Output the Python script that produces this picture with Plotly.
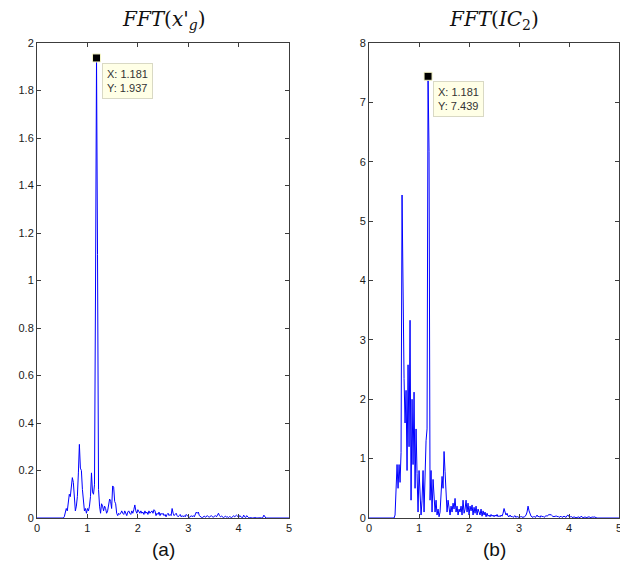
import numpy as np
import plotly.graph_objects as go

# frequency grid (0.501 ... 4.601, step 0.02) plus the axis ends
grid = [round(0.501 + 0.02 * k, 3) for k in range(206)]
freq = [0.0] + grid + [5.0]

# FFT(x'_g) amplitudes
amp_xg = [
    0, 0, 0.005, 0.02, 0.04, 0.03, 0.07, 0.10, 0.09, 0.12,
    0.17, 0.15, 0.06, 0.03, 0.05, 0.09, 0.19, 0.31, 0.21, 0.20,
    0.12, 0.06, 0.03, 0.04, 0.02, 0.04, 0.03, 0.05, 0.09, 0.19,
    0.11, 0.10, 0.14, 0.96, 1.937, 1.11, 0.12, 0.05, 0.02, 0.06,
    0.05, 0.03, 0.05, 0.04, 0.02, 0.03, 0.05, 0.08, 0.07, 0.04,
    0.135, 0.13, 0.07, 0.06, 0.02, 0.01, 0.02, 0.015, 0.02, 0.03,
    0.02, 0.015, 0.03, 0.02, 0.01, 0.025, 0.03, 0.02, 0.015, 0.03,
    0.02, 0.035, 0.055, 0.03, 0.02, 0.035, 0.025, 0.02, 0.03, 0.02,
    0.025, 0.015, 0.03, 0.02, 0.025, 0.015, 0.03, 0.02, 0.025, 0.03,
    0.02, 0.035, 0.03, 0.01, 0.02, 0.015, 0.025, 0.01, 0.02, 0.015,
    0.02, 0.01, 0.015, 0.005, 0.015, 0.02, 0.01, 0.015, 0.01, 0.04,
    0.02, 0.01, 0.015, 0.02, 0.01, 0.005, 0.01, 0.015, 0.005, 0.01,
    0.005, 0.01, 0.005, 0.015, 0.01, 0.005, 0.003, 0.005, 0.01, 0.005,
    0.01, 0.005, 0.015, 0.025, 0.02, 0.025, 0.01, 0.005, 0.003, 0.002,
    0.005, 0.008, 0.003, 0.005, 0.01, 0.005, 0.003, 0.008, 0.01, 0.005,
    0.003, 0.008, 0.01, 0.005, 0.015, 0.02, 0.01, 0.005, 0.008, 0.003,
    0.002, 0.005, 0.008, 0.003, 0.005, 0.002, 0.006, 0.004, 0.002, 0.005,
    0.01, 0.005, 0.008, 0.012, 0.008, 0.002, 0.01, 0.005, 0.003, 0.002,
    0.012, 0.005, 0.002, 0.01, 0.003, 0.001, 0.001, 0.002, 0.001, 0.0,
    0.001, 0, 0.002, 0, 0.001, 0, 0, 0.001, 0, 0.002,
    0.012, 0.002, 0, 0, 0, 0,
]
amp_xg = [0] + amp_xg + [0]

# FFT(IC_2) amplitudes
amp_ic2 = [
    0, 0.05, 0.45, 0.9, 0.5, 0.9, 0.6, 1.1, 5.44, 3.18,
    2.35, 1.6, 2.15, 0.8, 2.58, 1.2, 3.33, 0.3, 2.0, 0.9,
    2.12, 0.5, 1.5, 0.75, 0.1, 0.8, 0.2, 0.05, 0.3, 0.8,
    0.1, 0.75, 1.3, 1.5, 7.439, 6.17, 0.3, 0.8, 0.1, 0.65,
    0.45, 0.1, 0.3, 0.05, 0.15, 0.02, 0.1, 0.4, 0.7, 0.5,
    1.12, 0.78, 0.25, 0.1, 0.3, 0.15, 0.05, 0.2, 0.1, 0.25,
    0.15, 0.33, 0.1, 0.2, 0.05, 0.15, 0.1, 0.2, 0.05, 0.3,
    0.08, 0.15, 0.3, 0.1, 0.25, 0.05, 0.2, 0.12, 0.22, 0.05,
    0.18, 0.08, 0.2, 0.05, 0.15, 0.1, 0.05, 0.15, 0.03, 0.12,
    0.05, 0.1, 0.02, 0.08, 0.03, 0.05, 0.02, 0.06, 0.03, 0.05,
    0.02, 0.05, 0.03, 0.06, 0.02, 0.04, 0.02, 0.05, 0.03, 0.08,
    0.16, 0.1, 0.05, 0.08, 0.03, 0.02, 0.05, 0.02, 0.03, 0.01,
    0.02, 0.04, 0.01, 0.03, 0.01, 0.02, 0.01, 0.03, 0.01, 0.02,
    0.01, 0.03, 0.05, 0.1, 0.2, 0.12, 0.05, 0.03, 0.02, 0.01,
    0.03, 0.01, 0.02, 0.05, 0.02, 0.03, 0.01, 0.04, 0.02, 0.03,
    0.01, 0.02, 0.04, 0.03, 0.05, 0.06, 0.05, 0.06, 0.04, 0.02,
    0.03, 0.02, 0.04, 0.02, 0.03, 0.01, 0.02, 0.03, 0.01, 0.02,
    0.03, 0.02, 0.01, 0.04, 0.05, 0.02, 0.01, 0.03, 0.01, 0.01,
    0.02, 0.01, 0.01, 0.005, 0.02, 0.01, 0.005, 0.03, 0.01, 0.005,
    0.01, 0.02, 0.005, 0.01, 0.005, 0.02, 0.01, 0.005, 0.02, 0.01,
    0.02, 0.01, 0.005, 0, 0, 0,
]
amp_ic2 = [0] + amp_ic2 + [0]

# data tips
tip_x = [1.181, 1.181]
tip_y = [1.937, 7.439]

panel_titles = ["<i>FFT</i>(<i>x</i>'<sub><i>g</i></sub>)", "<i>FFT</i>(<i>IC</i><sub>2</sub>)"]
panel_labels = ["(a)", "(b)"]
x_ticks = [0, 1, 2, 3, 4, 5]
y_ticks_a = [0, 0.2, 0.4, 0.6, 0.8, 1, 1.2, 1.4, 1.6, 1.8, 2]
y_ticks_b = [0, 1, 2, 3, 4, 5, 6, 7, 8]

# the page places the figure 8px in from the top-left corner
OFF = 8
W, H = 628 - OFF, 567 - OFF


def px(x):
    return (x - OFF) / W


def py(y):
    return 1 - (y - OFF) / H


fig = go.Figure()

fig.add_trace(go.Scatter(x=freq, y=amp_xg, mode="lines",
                         line=dict(color="#0000FF", width=1), xaxis="x", yaxis="y"))
fig.add_trace(go.Scatter(x=freq, y=amp_ic2, mode="lines",
                         line=dict(color="#0000FF", width=1), xaxis="x2", yaxis="y2"))
fig.add_trace(go.Scatter(x=[tip_x[0]], y=[tip_y[0]], mode="markers",
                         marker=dict(symbol="square", size=8, color="black",
                                     line=dict(color="#F5F5C8", width=1)),
                         xaxis="x", yaxis="y", cliponaxis=False))
fig.add_trace(go.Scatter(x=[tip_x[1]], y=[tip_y[1]], mode="markers",
                         marker=dict(symbol="square", size=8, color="black",
                                     line=dict(color="#F5F5C8", width=1)),
                         xaxis="x2", yaxis="y2", cliponaxis=False))

axis_common = dict(showgrid=False, zeroline=False, showline=True, linecolor="#3c3c3c",
                   linewidth=1, mirror="allticks", ticks="inside", ticklen=4,
                   automargin=False,
                   tickcolor="#3c3c3c", tickfont=dict(family="Liberation Sans", size=11, color="#1a1a1a"))

xd1 = [px(37), px(289)]
xd2 = [px(369), px(619)]
yd = [py(518), py(43)]

fig.update_layout(
    template="none",
    width=W, height=H, margin=dict(l=0, r=0, t=0, b=0, autoexpand=False),
    paper_bgcolor="white", plot_bgcolor="white", showlegend=False,
    xaxis=dict(domain=xd1, range=[0, 5], tickvals=x_ticks, anchor="y", **axis_common),
    yaxis=dict(domain=yd, range=[0, 2], tickvals=y_ticks_a, anchor="x", **axis_common),
    xaxis2=dict(domain=xd2, range=[0, 5], tickvals=x_ticks, anchor="y2", **axis_common),
    yaxis2=dict(domain=yd, range=[0, 8], tickvals=y_ticks_b, anchor="x2", **axis_common),
)

# titles and panel labels
for i, xd in enumerate([xd1, xd2]):
    fig.add_annotation(x=(xd[0] + xd[1]) / 2, y=py(20), xref="paper", yref="paper",
                       text=panel_titles[i], showarrow=False,
                       xanchor="center", yanchor="middle",
                       font=dict(family="DejaVu Serif", size=20, color="#111"))
    fig.add_annotation(x=(xd[0] + xd[1]) / 2, y=py(549), xref="paper", yref="paper",
                       text=panel_labels[i], showarrow=False,
                       xanchor="center", yanchor="middle",
                       font=dict(family="Liberation Sans", size=19, color="#111"))

# data tip boxes
for i, (xr, yr) in enumerate([("x", "y"), ("x2", "y2")]):
    fig.add_annotation(x=tip_x[i], y=tip_y[i], xref=xr, yref=yr,
                       text=f"X: {tip_x[i]}<br>Y: {tip_y[i]}", showarrow=False,
                       xanchor="left", yanchor="top", xshift=5, yshift=-5, align="left",
                       bgcolor="#FFFFE6", bordercolor="#D9D9C4", borderwidth=1, borderpad=4,
                       font=dict(family="Liberation Sans", size=11, color="#333"))

fig.write_html("out.html")
